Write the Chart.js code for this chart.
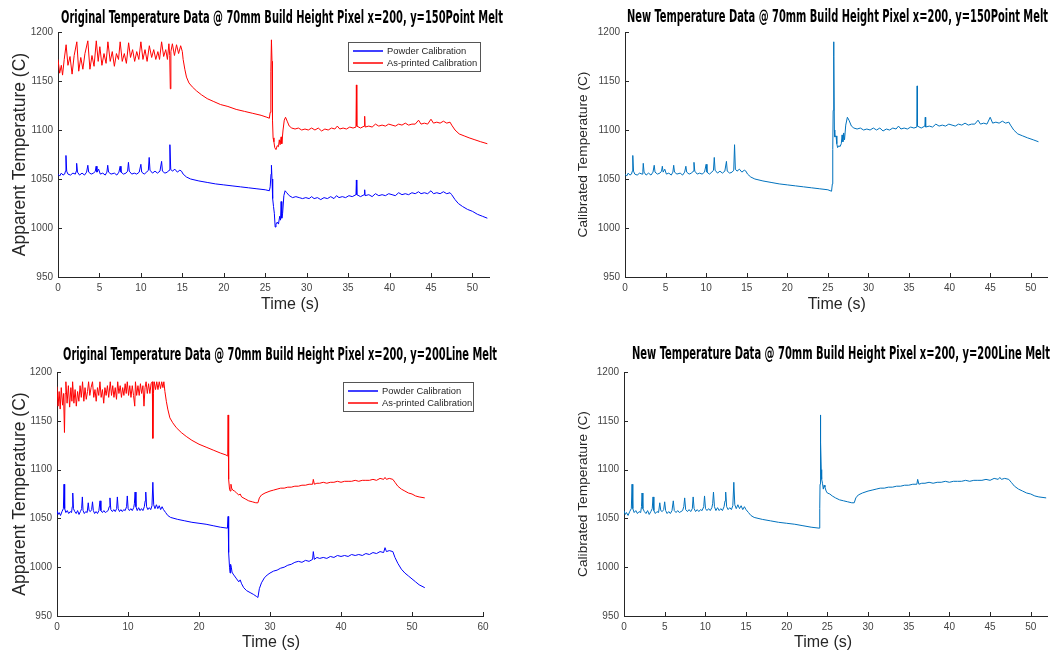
<!DOCTYPE html>
<html><head><meta charset="utf-8">
<script src="https://cdn.jsdelivr.net/npm/chart.js@4.4.1/dist/chart.umd.min.js"></script>
<style>
html,body{margin:0;padding:0;background:#fff;overflow:hidden;}
#wrap{position:relative;width:1063px;height:652px;}
canvas{position:absolute;}
</style></head><body>
<div id="wrap">
<canvas id="c1" width="530" height="325" style="left:0;top:0"></canvas>
<canvas id="c2" width="533" height="325" style="left:530px;top:0"></canvas>
<canvas id="c3" width="530" height="322" style="left:0;top:330px"></canvas>
<canvas id="c4" width="533" height="322" style="left:530px;top:330px"></canvas>
</div>
<script>
// ---------- tick labels ----------
const yTicks = [950, 1000, 1050, 1100, 1150, 1200];
const xTicks5 = [0, 5, 10, 15, 20, 25, 30, 35, 40, 45, 50];
const xTicks10 = [0, 10, 20, 30, 40, 50, 60];

// ---------- Panel 1: Point Melt, original ----------
const p1PowderT = [0,0.2,0.4,0.6,0.8,0.9,0.96,1.05,1.2,1.5,1.8,2.1,2.2,2.25,2.35,2.6,2.9,3.2,3.45,3.6,3.7,4.0,4.3,4.5,4.6,4.7,4.9,5.1,5.4,5.7,5.9,6.0,6.1,6.4,6.8,7.1,7.35,7.5,7.6,7.9,8.2,8.4,8.5,8.6,8.9,9.2,9.5,9.8,10.0,10.1,10.4,10.7,10.9,11.0,11.1,11.4,11.7,12.0,12.3,12.5,12.6,12.9,13.2,13.4,13.5,13.6,13.8,14.1,14.4,14.7,14.9,15.1,15.5,16,17,18,19,20,21,22,23,24,25,25.5,25.6,25.7,25.75,25.82,25.9,26.0,26.1,26.2,26.3,26.45,26.6,26.75,26.85,26.92,27.0,27.1,27.25,27.4,27.6,27.9,28.3,28.7,29.1,29.5,29.9,30.3,30.6,30.9,31.3,31.7,32.1,32.5,32.9,33.3,33.6,33.9,34.3,34.7,35.1,35.5,35.95,36.0,36.05,36.5,36.95,37.0,37.05,37.5,37.9,38.3,38.7,39.1,39.5,39.9,40.3,40.7,41.1,41.5,41.9,42.3,42.7,43.1,43.5,43.8,44.2,44.6,45.0,45.3,45.7,46.1,46.5,46.9,47.3,47.5,47.9,48.3,48.8,49.4,50,50.6,51.2,51.8];
const p1PowderV = [1055,1053,1056,1054,1055,1058,1074,1058,1055,1054,1056,1055,1058,1066,1057,1054,1056,1054,1057,1064,1057,1055,1056,1058,1063,1057,1060,1055,1056,1054,1057,1064,1057,1055,1056,1054,1057,1063,1057,1055,1056,1058,1067,1058,1055,1056,1055,1057,1065,1057,1055,1057,1059,1072,1059,1056,1058,1056,1058,1068,1058,1056,1057,1059,1085,1060,1058,1060,1057,1059,1058,1055,1052,1050,1048,1046.5,1045,1044,1043,1042,1041,1040,1039,1038,1042,1055,1064,1050,1030,1022,1015,1001,1004,1006,1004,1012,1008,1027,1010,1015,1033,1038,1036,1033,1031,1032,1031,1030,1031,1030,1032,1030,1031,1029,1031,1030,1032,1030,1033,1031,1032,1031,1033,1032,1034,1049,1034,1032,1034,1039,1033,1034,1032,1035,1033,1034,1033,1035,1034,1033,1036,1034,1035,1034,1036,1035,1037,1035,1036,1035,1038,1035,1036,1035,1037,1035,1036,1034,1029,1025,1022,1019,1017,1014,1012,1010];
const p1PrintedT = [0,0.2,0.4,0.55,0.75,0.98,1.2,1.45,1.7,1.95,2.27,2.5,2.75,3.0,3.25,3.6,3.85,4.1,4.35,4.62,4.85,5.05,5.3,5.55,5.8,6.02,6.3,6.55,6.8,7.05,7.3,7.5,7.75,8.0,8.25,8.52,8.75,9.0,9.25,9.5,9.75,10.0,10.25,10.5,10.75,11.02,11.3,11.55,11.8,12.05,12.25,12.5,12.75,13.0,13.2,13.38,13.48,13.55,13.62,13.8,14.05,14.3,14.55,14.8,15.0,15.1,15.3,15.5,15.8,16.2,16.7,17.3,18,18.8,19.6,20.5,21.5,22.5,23.5,24.5,25.2,25.5,25.6,25.68,25.75,25.82,25.88,25.95,26.05,26.15,26.3,26.45,26.6,26.7,26.8,26.92,27.0,27.15,27.3,27.45,27.65,27.9,28.2,28.6,29,29.4,29.8,30.2,30.6,31,31.4,31.8,32.2,32.6,33,33.4,33.7,34,34.4,34.8,35.2,35.6,35.95,36.0,36.05,36.5,36.95,37.0,37.05,37.5,37.9,38.3,38.7,39.1,39.5,39.9,40.3,40.7,41.1,41.5,41.9,42.3,42.7,43.1,43.5,43.8,44.2,44.6,45.0,45.3,45.7,46.1,46.5,46.9,47.3,47.5,47.9,48.4,49,49.6,50.3,51,51.8];
const p1PrintedV = [1172,1158,1166,1156,1172,1187,1166,1175,1157,1176,1190,1160,1174,1162,1178,1191,1162,1176,1165,1191,1170,1185,1166,1178,1168,1190,1170,1180,1165,1178,1172,1190,1170,1178,1168,1189,1174,1182,1170,1180,1172,1190,1172,1182,1170,1186,1174,1182,1172,1180,1172,1190,1175,1182,1172,1188,1176,1142,1180,1188,1176,1187,1178,1186,1180,1172,1162,1154,1148,1144,1140,1136,1132,1129,1126,1124,1121,1119,1117,1115,1113,1112,1118,1160,1192,1170,1110,1092,1088,1082,1080,1084,1083,1090,1085,1093,1086,1100,1110,1113,1109,1104,1102,1101,1102,1100,1101,1100,1102,1100,1102,1099,1101,1100,1102,1101,1104,1101,1102,1101,1103,1102,1103,1146,1104,1102,1104,1114,1103,1104,1103,1106,1104,1105,1104,1106,1105,1104,1106,1105,1107,1105,1106,1106,1110,1106,1107,1106,1111,1107,1108,1107,1109,1107,1108,1105,1100,1096,1094,1092,1090,1088,1086];

// ---------- Panel 2: Point Melt, new ----------
const p2NewT = [0,0.2,0.4,0.6,0.8,0.9,0.96,1.05,1.2,1.5,1.8,2.1,2.2,2.25,2.35,2.6,2.9,3.2,3.45,3.6,3.7,4.0,4.3,4.5,4.6,4.7,4.9,5.1,5.4,5.7,5.9,6.0,6.1,6.4,6.8,7.1,7.35,7.5,7.6,7.9,8.2,8.4,8.5,8.6,8.9,9.2,9.5,9.8,10.0,10.1,10.4,10.7,10.9,11.0,11.1,11.4,11.7,12.0,12.3,12.5,12.6,12.9,13.2,13.4,13.5,13.6,13.8,14.1,14.4,14.7,14.9,15.1,15.5,16,17,18,19,20,21,22,23,24,25,25.45,25.55,25.6,25.65,25.7,25.75,25.8,25.85,26.0,26.1,26.2,26.35,26.5,26.65,26.75,26.85,26.95,27.05,27.2,27.4,27.6,27.9,28.2,28.6,29,29.4,29.8,30.2,30.6,31,31.4,31.8,32.2,32.6,33,33.4,33.7,34,34.4,34.8,35.2,35.6,35.96,36.0,36.04,36.5,36.95,37.0,37.05,37.5,37.9,38.3,38.7,39.1,39.5,39.9,40.3,40.7,41.1,41.5,41.9,42.3,42.7,43.1,43.5,43.8,44.2,44.6,45.0,45.3,45.7,46.1,46.5,46.9,47.3,47.5,47.9,48.4,49,49.6,50.3,50.95];
const p2NewV = [1055,1053,1056,1054,1055,1058,1074,1058,1055,1054,1056,1055,1058,1066,1057,1054,1056,1054,1057,1064,1057,1055,1056,1058,1063,1057,1060,1055,1056,1054,1057,1064,1057,1055,1056,1054,1057,1063,1057,1055,1056,1058,1067,1058,1055,1056,1055,1057,1065,1057,1055,1057,1059,1072,1059,1056,1058,1056,1058,1068,1058,1056,1057,1059,1085,1060,1058,1060,1057,1059,1058,1055,1052,1050,1048,1046.5,1045,1044,1043,1042,1041,1040,1039,1037.5,1045,1080,1120,1190,1175,1100,1093,1094,1086,1082,1084,1083,1086,1095,1088,1097,1090,1105,1113,1110,1104,1102,1101,1102,1100,1101,1100,1102,1100,1102,1099,1101,1100,1102,1101,1104,1101,1102,1101,1103,1102,1103,1145,1104,1102,1104,1113,1103,1104,1103,1106,1104,1105,1104,1106,1105,1104,1106,1105,1107,1105,1106,1106,1110,1106,1107,1106,1113,1107,1108,1107,1109,1107,1108,1105,1100,1096,1094,1092,1090,1088];

// ---------- Panel 3: Line Melt, original ----------
const p3PowderT = [0,0.15,0.3,0.5,0.7,0.9,0.99,1.08,1.25,1.45,1.65,1.85,2.05,2.15,2.22,2.32,2.5,2.7,2.9,3.1,3.3,3.47,3.57,3.67,3.85,4.05,4.25,4.4,4.52,4.7,4.88,5.0,5.12,5.3,5.5,5.7,5.9,6.06,6.18,6.4,6.6,6.8,7.0,7.2,7.35,7.46,7.58,7.8,8.0,8.2,8.4,8.5,8.62,8.8,9.0,9.2,9.4,9.6,9.8,9.9,10.02,10.2,10.4,10.6,10.8,10.9,11.0,11.12,11.3,11.5,11.7,11.9,12.1,12.3,12.42,12.5,12.62,12.8,13.0,13.2,13.38,13.5,13.62,13.8,14.0,14.2,14.4,14.6,14.8,15.0,15.3,15.6,16,17,18,19,20,21,22,23,24,24.05,24.1,24.15,24.2,24.3,24.38,24.45,24.55,24.65,24.8,25.0,25.3,25.6,25.8,26.0,26.3,26.7,27.2,27.7,28.1,28.3,28.5,28.8,29.2,29.6,30,30.5,31,31.5,32,32.5,33,33.5,34,34.5,35,35.5,36,36.1,36.25,36.6,37,37.5,38,38.5,39,39.5,40,40.5,41,41.5,42,42.5,43,43.5,44,44.5,45,45.5,46,46.2,46.4,46.8,47.3,47.6,48,48.5,49,49.5,50,50.5,51,51.8];
const p3PowderV = [1058,1054,1056,1053,1057,1060,1085,1060,1056,1058,1055,1057,1056,1062,1076,1060,1057,1055,1058,1054,1057,1060,1072,1058,1055,1057,1056,1066,1058,1057,1059,1067,1058,1055,1057,1055,1058,1068,1058,1056,1058,1056,1057,1058,1062,1071,1059,1057,1059,1057,1060,1072,1060,1057,1059,1057,1059,1058,1062,1073,1060,1058,1060,1058,1061,1065,1077,1062,1058,1061,1058,1060,1058,1062,1068,1077,1062,1059,1061,1059,1063,1087,1064,1060,1064,1060,1063,1059,1062,1059,1056,1053,1051,1049,1047.5,1046,1045,1044,1042.5,1041,1040,1040,1052,1040,1015,1000,994,1003,1000,995,993,991,988,985,987,983,979,976,974,972,970,969,978,984,989,992,994,996,997,999,1000,1002,1003,1005,1006,1005,1007,1006,1008,1016,1008,1010,1009,1010,1009,1011,1010,1012,1011,1012,1011,1013,1012,1013,1012,1014,1013,1015,1014,1016,1015,1020,1016,1017,1016,1010,1004,998,994,991,988,985,982,979];
const p3PrintedT = [0,0.15,0.3,0.45,0.6,0.78,0.92,1.05,1.15,1.25,1.42,1.6,1.78,1.95,2.1,2.2,2.38,2.55,2.72,2.9,3.08,3.25,3.42,3.6,3.78,3.95,4.12,4.3,4.45,4.62,4.8,5.0,5.18,5.35,5.52,5.7,5.88,6.05,6.22,6.4,6.58,6.75,6.92,7.1,7.28,7.5,7.68,7.85,8.02,8.2,8.38,8.55,8.72,8.9,9.08,9.25,9.42,9.6,9.75,9.9,10.08,10.25,10.42,10.6,10.78,10.95,11.05,11.22,11.4,11.58,11.75,11.92,12.1,12.25,12.4,12.55,12.72,12.9,13.08,13.25,13.42,13.5,13.58,13.7,13.88,14.05,14.22,14.4,14.58,14.75,14.92,15.05,15.2,15.4,15.6,15.9,16.3,16.8,17.5,18.2,19,20,21,22,23,23.8,24.0,24.05,24.1,24.15,24.2,24.3,24.4,24.5,24.6,24.75,25,25.3,25.6,25.8,26.0,26.5,27,27.5,28,28.3,28.5,28.8,29.3,30,30.5,31,31.5,32,32.5,33,33.5,34,34.5,35,35.5,36,36.1,36.25,36.6,37,37.5,38,38.5,39,39.5,40,40.5,41,41.5,42,42.5,43,43.5,44,44.5,45,45.5,46,46.2,46.4,46.8,47.3,47.6,48,48.5,49,49.5,50,50.5,51,51.8];
const p3PrintedV = [1185,1165,1180,1162,1184,1166,1178,1138,1178,1190,1168,1186,1164,1184,1170,1190,1168,1182,1165,1180,1170,1186,1174,1190,1170,1184,1172,1180,1190,1176,1184,1190,1174,1182,1170,1184,1176,1190,1174,1182,1168,1184,1176,1186,1174,1190,1176,1186,1174,1184,1172,1190,1178,1186,1174,1184,1176,1188,1178,1190,1176,1186,1174,1186,1176,1165,1190,1176,1186,1176,1188,1178,1186,1165,1184,1190,1178,1188,1178,1188,1190,1132,1178,1190,1182,1190,1182,1190,1183,1190,1184,1190,1180,1170,1162,1153,1148,1143,1138,1134,1130,1126,1123,1120,1117,1115,1114,1116,1156,1120,1090,1080,1078,1085,1081,1079,1078,1076,1074,1075,1072,1070,1068,1067,1066,1066,1071,1074,1076,1078,1079,1080,1081,1081,1082,1082,1083,1083,1084,1084,1085,1085,1090,1085,1086,1086,1087,1086,1087,1087,1088,1087,1088,1088,1088,1089,1088,1089,1089,1089,1090,1089,1091,1090,1092,1090,1091,1090,1087,1083,1080,1078,1076,1075,1073,1072,1071];

// ---------- Panel 4: Line Melt, new ----------
const p4NewT = [0,0.15,0.3,0.5,0.7,0.9,0.99,1.08,1.25,1.45,1.65,1.85,2.05,2.15,2.22,2.32,2.5,2.7,2.9,3.1,3.3,3.47,3.57,3.67,3.85,4.05,4.25,4.4,4.52,4.7,4.88,5.0,5.12,5.3,5.5,5.7,5.9,6.06,6.18,6.4,6.6,6.8,7.0,7.2,7.35,7.46,7.58,7.8,8.0,8.2,8.4,8.5,8.62,8.8,9.0,9.2,9.4,9.6,9.8,9.9,10.02,10.2,10.4,10.6,10.8,10.9,11.0,11.12,11.3,11.5,11.7,11.9,12.1,12.3,12.42,12.5,12.62,12.8,13.0,13.2,13.38,13.5,13.62,13.8,14.0,14.2,14.4,14.6,14.8,15.0,15.3,15.6,16,17,18,19,20,21,22,23,24,24.05,24.08,24.1,24.13,24.16,24.2,24.25,24.3,24.4,24.5,24.6,24.7,24.85,25,25.3,25.6,26,26.5,27,27.5,28,28.3,28.5,28.8,29.3,30,30.5,31,31.5,32,32.5,33,33.5,34,34.5,35,35.5,36,36.1,36.25,36.6,37,37.5,38,38.5,39,39.5,40,40.5,41,41.5,42,42.5,43,43.5,44,44.5,45,45.5,46,46.2,46.4,46.8,47.3,47.6,48,48.5,49,49.5,50,50.5,51,51.9];
const p4NewV = [1058,1054,1056,1053,1057,1060,1085,1060,1056,1058,1055,1057,1056,1062,1076,1060,1057,1055,1058,1054,1057,1060,1072,1058,1055,1057,1056,1066,1058,1057,1059,1067,1058,1055,1057,1055,1058,1068,1058,1056,1058,1056,1057,1058,1062,1071,1059,1057,1059,1057,1060,1072,1060,1057,1059,1057,1059,1058,1062,1073,1060,1058,1060,1058,1061,1065,1077,1062,1058,1061,1058,1060,1058,1062,1068,1077,1062,1059,1061,1059,1063,1087,1064,1060,1064,1060,1063,1059,1062,1059,1056,1053,1051,1049,1047.5,1046,1045,1044,1042.5,1041,1040,1040,1060,1085,1135,1156,1128,1100,1090,1086,1080,1084,1082,1078,1076,1075,1073,1071,1069,1068,1067,1066,1066,1071,1074,1076,1078,1079,1080,1081,1081,1082,1082,1083,1083,1084,1084,1085,1085,1090,1085,1086,1086,1087,1086,1087,1087,1088,1087,1088,1088,1088,1089,1088,1089,1089,1089,1090,1089,1091,1090,1092,1090,1091,1090,1087,1083,1080,1078,1076,1075,1073,1072,1071];

// ---------- labels ----------
const seriesNames = ['Powder Calibration', 'As-printed Calibration'];
const titles = [
  'Original Temperature Data @ 70mm Build Height Pixel x=200, y=150Point Melt',
  'New Temperature Data @ 70mm Build Height Pixel x=200, y=150Point Melt',
  'Original Temperature Data @ 70mm Build Height Pixel x=200, y=200Line Melt',
  'New Temperature Data @ 70mm Build Height Pixel x=200, y=200Line Melt'
];
const xLabel = 'Time (s)';
const yLabelOrig = 'Apparent Temperature (C)';
const yLabelNew = 'Calibrated Temperature (C)';

const SANS = '"Liberation Sans", Arial, Helvetica, sans-serif';
const NARROW = '"Liberation Sans Narrow", "DejaVu Sans Condensed", "Liberation Sans", sans-serif';
const AXIS = '#262626';

function pts(t, v) { return t.map((x, i) => ({x: x, y: v[i]})); }

// inward tick marks (MATLAB style)
const inwardTicks = {
  id: 'inwardTicks',
  afterDatasetsDraw(chart) {
    const {ctx, chartArea: a, scales: {x, y}} = chart;
    ctx.save();
    ctx.strokeStyle = AXIS; ctx.lineWidth = 1;
    ctx.beginPath();
    x.ticks.forEach(t => { const px = Math.round(x.getPixelForValue(t.value)) + 0.5; ctx.moveTo(px, a.bottom); ctx.lineTo(px, a.bottom - 4); });
    y.ticks.forEach(t => { const py = Math.round(y.getPixelForValue(t.value)) + 0.5; ctx.moveTo(a.left, py); ctx.lineTo(a.left + 4, py); });
    ctx.stroke();
    ctx.restore();
  }
};

// panel title and x label placed like the original figure
const panelText = {
  id: 'panelText',
  afterDraw(chart, args, o) {
    const ctx = chart.ctx;
    ctx.save();
    ctx.textAlign = 'center'; ctx.textBaseline = 'middle';
    ctx.fillStyle = '#000';
    ctx.font = 'bold 17px ' + NARROW;
    const w = ctx.measureText(o.title).width;
    const sx = o.titleW / w;
    ctx.translate(o.titleX, o.titleY);
    ctx.scale(sx, 1);
    ctx.fillText(o.title, 0, 0);
    ctx.restore();
    ctx.save();
    ctx.textAlign = 'center'; ctx.textBaseline = 'middle';
    ctx.fillStyle = AXIS;
    ctx.font = '16px ' + SANS;
    ctx.fillText(o.xlabel, o.xlabelX, o.xlabelY);
    ctx.restore();
  }
};

// boxed legend
const boxLegend = {
  id: 'boxLegend',
  afterDraw(chart, args, o) {
    if (!o.show) return;
    const ctx = chart.ctx;
    ctx.save();
    ctx.fillStyle = '#fff';
    ctx.fillRect(o.x, o.y, o.w, o.h);
    ctx.strokeStyle = '#555'; ctx.lineWidth = 1;
    ctx.strokeRect(o.x + 0.5, o.y + 0.5, o.w, o.h);
    ctx.font = '9.4px ' + SANS;
    ctx.textBaseline = 'middle'; ctx.textAlign = 'left';
    chart.data.datasets.forEach((ds, i) => {
      const yy = o.y + o.rows[i];
      ctx.strokeStyle = ds.borderColor; ctx.lineWidth = 1.5;
      ctx.beginPath(); ctx.moveTo(o.x + 5, yy); ctx.lineTo(o.x + 35, yy); ctx.stroke();
      ctx.fillStyle = AXIS;
      ctx.fillText(ds.label, o.x + 39, yy + 0.5);
    });
    ctx.restore();
  }
};

function makeChart(id, datasets, s) {
  return new Chart(document.getElementById(id), {
    type: 'line',
    data: {datasets: datasets.map(d => ({
      label: d.label, data: d.data, borderColor: d.color, borderWidth: 1,
      pointRadius: 0, tension: 0, fill: false
    }))},
    options: {
      responsive: false, animation: false, devicePixelRatio: 1,
      layout: {padding: {left: s.pl, right: s.pr, top: s.pt, bottom: 0}},
      plugins: {
        legend: {display: false}, tooltip: {enabled: false}, title: {display: false},
        panelText: s.text,
        boxLegend: s.legend || {show: false}
      },
      scales: {
        x: {
          type: 'linear', min: 0, max: s.xMax,
          afterBuildTicks: sc => { sc.ticks = s.xTicks.map(v => ({value: v})); },
          afterFit: sc => { sc.height = s.xH; },
          grid: {display: true, drawOnChartArea: false, drawTicks: false},
          border: {display: true, color: AXIS, width: 1},
          ticks: {font: {family: SANS, size: 10}, color: '#444', padding: 5, maxRotation: 0, autoSkip: false,
                  callback: v => String(v)},
          title: {display: false}
        },
        y: {
          type: 'linear', min: 950, max: 1200,
          afterBuildTicks: sc => { sc.ticks = yTicks.map(v => ({value: v})); },
          afterFit: sc => { sc.width = s.yW; },
          grid: {display: true, drawOnChartArea: false, drawTicks: false},
          border: {display: true, color: AXIS, width: 1},
          ticks: {font: {family: SANS, size: 10}, color: '#444', padding: 5, autoSkip: false,
                  callback: v => String(v)},
          title: {display: true, text: s.ylabel, color: AXIS, font: {family: SANS, size: s.ylabelSize}, padding: {top: s.yTitlePad, bottom: 0}}
        }
      }
    },
    plugins: [inwardTicks, panelText, boxLegend]
  });
}

const BLUE = '#0000ff', RED = '#ff0000', MBLUE = '#0072bd';

makeChart('c1', [
  {label: seriesNames[0], data: pts(p1PowderT, p1PowderV), color: BLUE},
  {label: seriesNames[1], data: pts(p1PrintedT, p1PrintedV), color: RED}
], {pl: 0, pr: 41, pt: 32, yW: 58, xH: 48, xMax: 52, xTicks: xTicks5,
    ylabel: yLabelOrig, ylabelSize: 17.5, yTitlePad: 9.5,
    text: {title: titles[0], titleX: 282, titleY: 19, titleW: 442, xlabel: xLabel, xlabelX: 290, xlabelY: 305},
    legend: {show: true, x: 348, y: 42, w: 132, h: 29, rows: [9, 21]}});

makeChart('c2', [
  {label: 'New', data: pts(p2NewT, p2NewV), color: MBLUE}
], {pl: 40, pr: 16, pt: 32, yW: 55, xH: 48, xMax: 52, xTicks: xTicks5,
    ylabel: yLabelNew, ylabelSize: 13.7, yTitlePad: 4.8,
    text: {title: titles[1], titleX: 307.5, titleY: 18, titleW: 421, xlabel: xLabel, xlabelX: 306.7, xlabelY: 305}});

makeChart('c3', [
  {label: seriesNames[0], data: pts(p3PowderT, p3PowderV), color: BLUE},
  {label: seriesNames[1], data: pts(p3PrintedT, p3PrintedV), color: RED}
], {pl: 0, pr: 47, pt: 42, yW: 57, xH: 36, xMax: 60, xTicks: xTicks10,
    ylabel: yLabelOrig, ylabelSize: 17.5, yTitlePad: 9.5,
    text: {title: titles[2], titleX: 280, titleY: 25.7, titleW: 434, xlabel: xLabel, xlabelX: 271, xlabelY: 313},
    legend: {show: true, x: 343, y: 52, w: 130, h: 29, rows: [9, 21]}});

makeChart('c4', [
  {label: 'New', data: pts(p4NewT, p4NewV), color: MBLUE}
], {pl: 40, pr: 16, pt: 42, yW: 54, xH: 36, xMax: 52, xTicks: xTicks5,
    ylabel: yLabelNew, ylabelSize: 13.7, yTitlePad: 4.8,
    text: {title: titles[3], titleX: 311, titleY: 25, titleW: 418, xlabel: xLabel, xlabelX: 293, xlabelY: 313}});
</script>
</body></html>
